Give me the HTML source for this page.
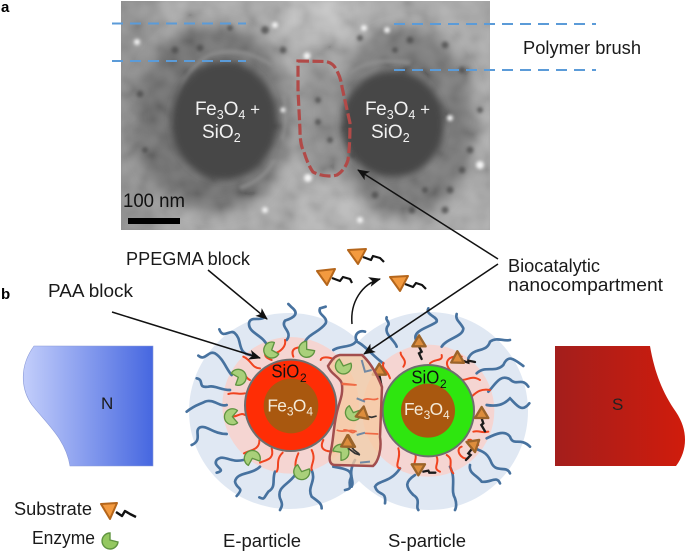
<!DOCTYPE html>
<html><head><meta charset="utf-8"><style>
html,body{margin:0;padding:0;background:#fff}
svg{display:block}
text{font-family:"Liberation Sans",sans-serif;fill:#1a1a1a}
</style></head><body>
<svg width="685" height="552" viewBox="0 0 685 552" xmlns="http://www.w3.org/2000/svg">
<defs>
<filter id="b2" x="-30%" y="-30%" width="160%" height="160%"><feGaussianBlur stdDeviation="3.5"/></filter>
<filter id="b1" x="-80%" y="-80%" width="260%" height="260%"><feGaussianBlur stdDeviation="1.6"/></filter>
<filter id="b6" x="-30%" y="-30%" width="160%" height="160%"><feGaussianBlur stdDeviation="7"/></filter>
<filter id="noise" x="0" y="0" width="100%" height="100%"><feTurbulence type="fractalNoise" baseFrequency=".05" numOctaves="2" seed="7"/><feColorMatrix type="matrix" values="1.6 0 0 0 -.3  1.6 0 0 0 -.3  1.6 0 0 0 -.3  0 0 0 0 .16"/><feGaussianBlur stdDeviation="1"/></filter>
<clipPath id="tem"><rect x="121" y="1" width="369" height="229"/></clipPath>
<linearGradient id="gn" x1="0" x2="1" y1="0" y2="0"><stop offset="0" stop-color="#c3cefb"/><stop offset="1" stop-color="#4667e0"/></linearGradient>
<linearGradient id="gs" x1="0" x2="1" y1="0" y2="0"><stop offset="0" stop-color="#a31e1c"/><stop offset="1" stop-color="#d01c0c"/></linearGradient>
<marker id="ah" markerWidth="14" markerHeight="12" refX="11" refY="5" orient="auto" markerUnits="userSpaceOnUse"><path d="M0 0L12 5L0 10L3 5Z" fill="#111"/></marker>
<g id="enz"><path d="M0 0L0-24A24 24 0 1 0 24 4Z" fill="#a9d07a" stroke="#5f9440" stroke-width="4" stroke-linejoin="round"/></g>
<g id="tri"><path d="M-20-14L20-14L0 19Z" fill="#dd8d3c" stroke="#9c642a" stroke-width="7" stroke-linejoin="round"/></g>
</defs>

<!-- TEM image -->
<g clip-path="url(#tem)">
<rect x="121" y="1" width="369" height="229" fill="#a6a6a6"/>
<rect x="110" y="-10" width="50" height="250" fill="#8c8c8c" filter="url(#b6)"/>
<rect x="285" y="-5" width="70" height="45" fill="#bdbdbd" filter="url(#b6)"/>
<rect x="290" y="190" width="80" height="45" fill="#b2b2b2" filter="url(#b6)"/>
<g filter="url(#b6)">
<ellipse cx="212" cy="118" rx="78" ry="94" fill="#686868"/>
<ellipse cx="405" cy="122" rx="70" ry="94" fill="#707070"/>
<ellipse cx="322" cy="118" rx="24" ry="58" fill="#878787"/>
</g>
<rect x="121" y="1" width="369" height="229" filter="url(#noise)"/>
<g filter="url(#b1)" fill="none" stroke="#939393" stroke-width="4" opacity=".7">
<path d="M174 125Q178 72 210 55Q240 45 272 65"/>
<path d="M274 160Q264 180 240 188"/>
<path d="M350 73Q372 56 410 63"/>
<path d="M284 95Q288 120 282 140"/>
</g>
<g filter="url(#b2)" fill="#474747">
<ellipse cx="224" cy="121" rx="53" ry="59"/>
<ellipse cx="393" cy="124" rx="51" ry="53"/>
</g>
<g filter="url(#b1)" fill="#4c4c4c" opacity=".8">
<circle cx="265" cy="30" r="4"/><circle cx="283" cy="50" r="3.5"/><circle cx="175" cy="50" r="3.5"/><circle cx="200" cy="48" r="3.5"/><circle cx="140" cy="94" r="3.5"/><circle cx="145" cy="150" r="3"/><circle cx="230" cy="28" r="3"/>
<circle cx="410" cy="40" r="3.5"/><circle cx="445" cy="45" r="3.5"/><circle cx="462" cy="70" r="3.5"/><circle cx="470" cy="150" r="3.5"/><circle cx="462" cy="170" r="3.5"/><circle cx="450" cy="190" r="3.5"/><circle cx="445" cy="210" r="3.5"/><circle cx="412" cy="210" r="3.5"/><circle cx="375" cy="195" r="3.5"/><circle cx="318" cy="100" r="3"/><circle cx="318" cy="122" r="3"/><circle cx="330" cy="140" r="3"/><circle cx="360" cy="38" r="3"/><circle cx="395" cy="50" r="3"/><circle cx="353" cy="155" r="3"/><circle cx="425" cy="190" r="3"/><circle cx="480" cy="110" r="3"/>
</g>
<g filter="url(#b1)" fill="#f4f4f4">
<circle cx="307" cy="56" r="3.5"/><circle cx="275" cy="25" r="3"/><circle cx="308" cy="178" r="4"/><circle cx="364" cy="28" r="3"/><circle cx="387" cy="30" r="3"/><circle cx="480" cy="165" r="4"/><circle cx="450" cy="118" r="3"/><circle cx="265" cy="210" r="3"/><circle cx="137" cy="42" r="3"/><circle cx="360" cy="220" r="3"/><circle cx="283" cy="110" r="2.5"/>
</g>
</g>
<!-- dashed -->
<g stroke="#5b9bd8" stroke-width="2" stroke-dasharray="11 7" fill="none">
<path d="M112 23.5H246"/><path d="M112 61H246"/><path d="M394 24H596"/><path d="M394 70H596"/>
</g>
<path d="M298 61L326 61.5Q333 63 336 69Q341 78 342 87L350 123Q350 145 348 160Q345 170 337 175Q325 178 313 172Q308 165 304 152Q300 145 300 130L298 90Z" fill="none" stroke="#b14a48" stroke-width="3.2" stroke-dasharray="11 3.5"/>

<text x="195" y="115" font-size="19" style="fill:#f2f2f2">F<tspan dx="-.5">e</tspan><tspan font-size="12.5" dy="4">3</tspan><tspan dy="-4">O</tspan><tspan font-size="12.5" dy="4">4</tspan><tspan dy="-4" font-size="17"> +</tspan></text>
<text x="202" y="138" font-size="19" style="fill:#f2f2f2">SiO<tspan font-size="12.5" dy="4">2</tspan></text>
<text x="365" y="115" font-size="19" style="fill:#f2f2f2">F<tspan dx="-.5">e</tspan><tspan font-size="12.5" dy="4">3</tspan><tspan dy="-4">O</tspan><tspan font-size="12.5" dy="4">4</tspan><tspan dy="-4" font-size="17"> +</tspan></text>
<text x="371" y="138" font-size="19" style="fill:#f2f2f2">SiO<tspan font-size="12.5" dy="4">2</tspan></text>
<text x="123" y="207" font-size="19" textLength="62" lengthAdjust="spacingAndGlyphs" style="fill:#111">100 nm</text>
<rect x="128" y="218" width="52" height="6" fill="#000"/>

<text x="1" y="12" font-size="15" font-weight="bold" style="fill:#000">a</text>
<text x="1" y="299" font-size="15" font-weight="bold" style="fill:#000">b</text>
<text x="523" y="54" font-size="18" textLength="118" lengthAdjust="spacingAndGlyphs">Polymer brush</text>
<text x="508" y="272" font-size="18" textLength="92" lengthAdjust="spacingAndGlyphs">Biocatalytic</text>
<text x="508" y="291" font-size="18" textLength="155" lengthAdjust="spacingAndGlyphs">nanocompartment</text>
<text x="126" y="265" font-size="18" textLength="124" lengthAdjust="spacingAndGlyphs">PPEGMA block</text>
<text x="48" y="297" font-size="18" textLength="85" lengthAdjust="spacingAndGlyphs">PAA block</text>
<text x="14" y="515" font-size="18" textLength="78" lengthAdjust="spacingAndGlyphs">Substrate</text>
<text x="32" y="544" font-size="18" textLength="63" lengthAdjust="spacingAndGlyphs">Enzyme</text>
<text x="223" y="547" font-size="18" textLength="78" lengthAdjust="spacingAndGlyphs">E-particle</text>
<text x="388" y="547" font-size="18" textLength="78" lengthAdjust="spacingAndGlyphs">S-particle</text>

<!-- N / S magnets -->
<path d="M34 346H153V466H70C66 440 48 425 32 405C20 388 20 365 34 346Z" fill="url(#gn)" stroke="#8a9ad8" stroke-width=".6"/>
<text x="101" y="409" font-size="17">N</text>
<path d="M555 346H650C655 375 664 395 676 412C688 430 688 450 676 466H555Z" fill="url(#gs)"/>
<text x="612" y="410" font-size="17" style="fill:#222">S</text>

<!-- blue coronae -->
<ellipse cx="289" cy="411" rx="100" ry="98" fill="#e0e8f3"/>
<circle cx="429" cy="411" r="99" fill="#e0e8f3"/>

<!-- Left particle in zoom coords -->
<g transform="translate(180 290) scale(.33333)">
<circle cx="332" cy="346" r="205" fill="#f5d5d2"/>
<g fill="none" stroke="#47729f" stroke-width="8" stroke-linecap="round">
<path d="M262 168C250 135 205 130 207 100C210 78 240 92 250 84"/>
<path d="M320 150C340 125 300 112 315 92C345 82 358 70 335 52L325 42"/>
<path d="M375 155C388 130 420 125 437 100C445 80 412 75 420 55L437 50"/>
<path d="M212 195C170 190 188 150 165 130C150 115 130 150 118 118"/>
<path d="M155 255C140 240 130 205 105 190C85 180 75 215 55 197"/>
<path d="M150 300C120 300 105 285 85 290C50 295 75 270 50 265"/>
<path d="M140 345C120 352 100 325 75 335C55 345 45 345 20 365"/>
<path d="M140 432C100 432 80 405 60 412C40 422 70 450 35 465"/>
<path d="M190 510C150 520 130 490 110 510C95 530 145 540 110 548"/>
<path d="M240 530C215 555 170 545 165 575C170 600 195 590 170 618"/>
<path d="M285 545C275 570 290 590 265 605C250 625 255 630 238 622"/>
<path d="M345 555C325 585 290 590 300 625C310 645 305 650 300 660"/>
<path d="M395 540C410 575 380 590 395 620C415 635 425 640 425 655"/>
<path d="M460 530C490 535 525 540 510 570C505 590 520 595 495 600"/>
<path d="M460 180C480 165 520 175 530 150"/>
</g>
<g fill="none" stroke="#f0431f" stroke-width="6" stroke-linecap="round">
<path d="M275 210C260 205 245 195 265 180"/><path d="M285 190C300 185 320 170 315 150"/>
<path d="M340 200C330 175 350 170 375 172"/><path d="M240 235C215 235 215 210 190 200"/>
<path d="M210 270C195 265 200 245 160 250"/><path d="M195 310C175 315 165 305 145 312"/>
<path d="M195 375C180 365 170 385 150 378"/><path d="M238 450C240 480 210 480 192 490"/>
<path d="M275 475C285 510 255 510 240 518"/><path d="M308 488C285 510 300 530 290 545"/>
<path d="M355 490C340 525 350 530 345 548"/><path d="M395 480C410 510 390 525 395 540"/>
<path d="M430 450C415 480 440 485 462 485"/><path d="M422 210C425 200 445 200 462 208"/>
</g>
<circle cx="332" cy="346" r="137" fill="#ff2d05" stroke="#6e6e6e" stroke-width="6"/>
<circle cx="333" cy="348" r="82" fill="#a9580f"/>
<text x="274" y="262" font-size="56" textLength="84" lengthAdjust="spacingAndGlyphs" style="fill:#111">SiO</text>
<text x="360" y="276" font-size="36" style="fill:#111">2</text>
<text x="262" y="365" font-size="52" style="fill:#f4ead8">F<tspan dx="-2">e</tspan><tspan font-size="36" dy="12">3</tspan><tspan dy="-12" dx="-2">O</tspan><tspan font-size="36" dy="12">4</tspan></text>
<use href="#enz" x="275" y="180" transform="rotate(20 275 180)"/>
<use href="#enz" x="380" y="178"/>
<use href="#enz" x="175" y="262" transform="rotate(200 175 262)"/>
<use href="#enz" x="157" y="380" transform="rotate(40 157 380)"/>
<use href="#enz" x="217" y="505" transform="rotate(110 217 505)"/>
<use href="#enz" x="365" y="545" transform="rotate(-30 365 545)"/>
</g>

<!-- Right particle in zoom coords -->
<g transform="translate(340 290) scale(.33333)">
<circle cx="265" cy="362" r="198" fill="#f5d5d2"/>
<g fill="none" stroke="#47729f" stroke-width="8" stroke-linecap="round">
<path d="M170 170C165 150 125 130 145 105C150 95 135 90 140 82"/>
<path d="M228 150C215 120 275 110 290 95C295 80 255 75 265 55"/>
<path d="M305 170C320 145 370 140 370 115C360 95 345 90 350 72"/>
<path d="M385 205C400 170 440 190 450 155C470 140 490 155 510 150"/>
<path d="M410 250C435 225 465 250 490 225C505 190 525 210 550 228"/>
<path d="M445 305C465 285 480 250 510 268C530 290 545 260 565 290"/>
<path d="M440 345C470 350 490 345 510 325C530 345 545 370 568 340"/>
<path d="M440 445C470 430 495 420 510 440C520 470 540 440 570 470"/>
<path d="M395 470C420 485 440 480 455 520C470 550 500 525 510 550"/>
<path d="M390 525C385 550 410 555 425 575C450 580 470 555 480 580"/>
<path d="M330 530C350 570 330 600 345 625C350 640 350 650 345 660"/>
<path d="M225 555C195 575 195 590 220 615C245 630 225 650 235 660"/>
<path d="M180 535C150 580 115 570 105 590C115 620 140 600 135 640"/>
<path d="M45 510C20 555 45 570 35 590"/>
<path d="M130 220C100 200 75 165 50 155C40 130 60 120 75 125"/>
</g>
<g fill="none" stroke="#f0431f" stroke-width="6" stroke-linecap="round">
<path d="M190 230C205 210 180 200 182 188"/><path d="M270 220C285 205 310 215 305 195"/>
<path d="M330 240C310 215 325 195 365 200"/><path d="M365 270C385 270 395 255 420 270"/>
<path d="M395 320C410 305 425 295 450 300"/><path d="M400 425C420 420 420 430 445 425"/>
<path d="M365 470C345 475 360 510 385 505"/><path d="M385 450C405 445 390 470 415 465"/>
<path d="M290 500C300 520 275 535 300 545"/><path d="M320 495C345 510 320 530 340 550"/>
<path d="M175 475C185 505 160 530 180 535"/><path d="M225 490C235 510 210 525 235 530"/>
<path d="M150 265C140 235 125 240 130 218"/>
</g>
<circle cx="265" cy="362" r="137" fill="#2ee60f" stroke="#6e6e6e" stroke-width="6"/>
<circle cx="264" cy="362" r="81" fill="#a9580f"/>
<text x="214" y="280" font-size="56" textLength="84" lengthAdjust="spacingAndGlyphs" style="fill:#111">SiO</text>
<text x="300" y="294" font-size="36" style="fill:#111">2</text>
<text x="192" y="375" font-size="52" style="fill:#f4ead8">F<tspan dx="-2">e</tspan><tspan font-size="36" dy="12">3</tspan><tspan dy="-12" dx="-2">O</tspan><tspan font-size="36" dy="12">4</tspan></text>
<g fill="none" stroke="#1b1b1b" stroke-width="7" stroke-linecap="round">
<path d="M237 170L245 185L237 190L245 207"/>
<path d="M362 210L385 218L385 212L405 216"/>
<path d="M118 255L125 290"/>
<path d="M425 385L430 400L424 405L435 424"/>
<path d="M397 475L385 490L392 495L378 510"/>
<path d="M250 545L265 542L268 548L286 548"/>
</g>
<use href="#tri" x="237" y="-155" transform="scale(1 -1)"/>
<use href="#tri" x="-425" y="-370" transform="scale(-1 -1)"/>
<use href="#tri" x="350" y="208" transform="rotate(60 350 208)"/>
<use href="#tri" x="118" y="-240" transform="scale(1 -1)"/>
<use href="#tri" x="403" y="462" transform="rotate(-130 403 462)"/>
<use href="#tri" x="235" y="537"/>
</g>

<!-- Compartment -->
<path d="M328 366C332 360 334 356 340 355L362 355C370 362 376 372 382 387L380 437C382 450 378 462 373 466L335 465C330 465 329 460 330 455C334 440 333 425 338 408C340 400 343 395 342 385C342 378 330 374 328 366Z" fill="#f6c9a2" fill-opacity=".78" stroke="#a24e4e" stroke-width="2.5"/>
<g transform="translate(180 290) scale(.33333)">
<use href="#enz" x="490" y="228" transform="rotate(-30 490 228)"/>
<use href="#enz" x="520" y="368" transform="rotate(-30 520 368)"/>
<use href="#enz" x="483" y="487" transform="rotate(180 483 487)"/>
<path d="M485 280L530 285M470 420C490 430 510 415 530 425" fill="none" stroke="#ef6a45" stroke-width="5"/>
<path d="M505 475L525 490L540 495" fill="none" stroke="#333" stroke-width="5"/>
<use href="#tri" x="503" y="460" transform="rotate(60 503 460)"/>
</g>
<g transform="translate(340 290) scale(.33333)">
<g fill="none" stroke="#ef6a45" stroke-width="5"><path d="M5 283L45 285"/><path d="M70 330C85 320 100 335 115 325"/><path d="M75 430L115 432"/><path d="M10 420C25 415 35 435 45 425"/></g>
<g fill="none" stroke="#47729f" stroke-width="6" opacity=".75"><path d="M50 325L75 335"/><path d="M50 435L75 428"/><path d="M60 518L90 515"/><path d="M65 210L75 245L95 240"/></g>
<g fill="none" stroke="#333" stroke-width="5"><path d="M78 378L95 382L110 378"/><path d="M30 465L42 480L58 492"/></g>
<use href="#tri" x="65" y="373" transform="rotate(70 65 373)"/>
<use href="#tri" x="20" y="460" transform="rotate(60 20 460)"/>
</g>

<!-- Free substrates -->
<g fill="none" stroke="#111" stroke-width="2.2" stroke-linejoin="round">
<path d="M363 257L371 260L373 256L380 258L384 262"/>
<path d="M332 278L340 281L343 277L350 279L352 283"/>
<path d="M405 284L413 287L416 283L422 285L426 289"/>
<path d="M116 512L122 516L125 511L130 514L136 517" stroke-width="2.4"/>
</g>
<g fill="#f39a3f" stroke="#b5661b" stroke-width="2" stroke-linejoin="round">
<path d="M348 250L366 249L358 264Z"/>
<path d="M317 271L335 269L327 285Z"/>
<path d="M390 277L408 276L400 291Z"/>
<path d="M101 504L117 503L110 519Z"/>
</g>
<path d="M110 533A8 8 0 1 0 118 542L110 540Z" fill="#94c860" stroke="#5f9440" stroke-width="1.4"/>

<!-- Arrows -->
<g fill="none" stroke="#111" stroke-width="1.5">
<path d="M498 259L358 170" marker-end="url(#ah)"/>
<path d="M498 264L364 354" marker-end="url(#ah)"/>
<path d="M208 270L267 319" marker-end="url(#ah)"/>
<path d="M112 312L260 358" marker-end="url(#ah)"/>
<path d="M352 324C350 302 362 284 380 279" marker-end="url(#ah)"/>
</g>
</svg>
</body></html>
